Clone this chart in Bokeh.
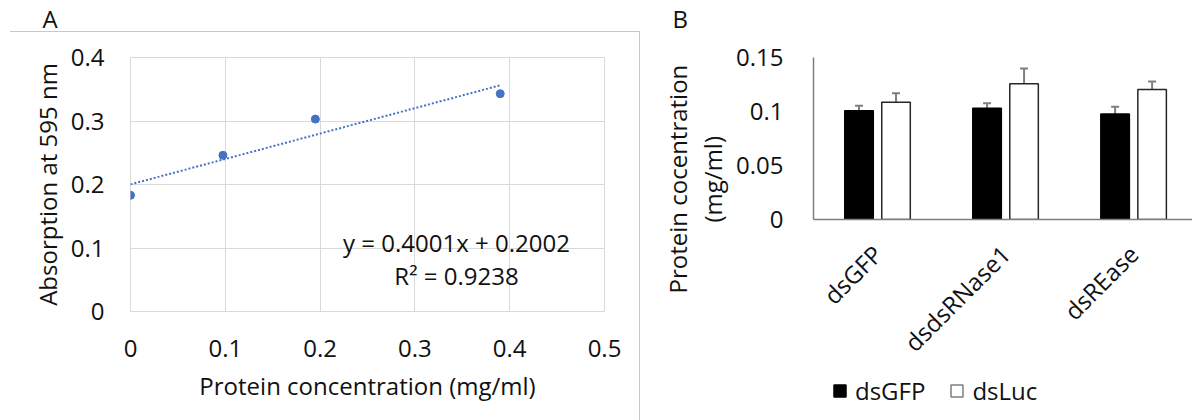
import math
from bokeh.plotting import figure
from bokeh.layouts import row, column
from bokeh.models import (Range1d, FixedTicker, PrintfTickFormatter, Label, Title,
                          ColumnDataSource, Whisker, TeeHead, Legend, LegendItem)
from bokeh.embed import file_html
from bokeh.resources import INLINE

FONT = "Open Sans"
FS = "24px"
TXT = "#111111"

# ---------------- Panel A data ----------------
conc = [0.0, 0.0975, 0.195, 0.39]          # protein concentration (mg/ml)
absorb = [0.183, 0.246, 0.303, 0.343]      # absorption at 595 nm
fit_slope = 0.4001
fit_intercept = 0.2002
fit_r2 = 0.9238
a_xticks = [0, 0.1, 0.2, 0.3, 0.4, 0.5]
a_yticks = [0, 0.1, 0.2, 0.3, 0.4]

# ---------------- Panel B data ----------------
groups = ["dsGFP", "dsdsRNase1", "dsREase"]
series = ["dsGFP", "dsLuc"]
gfp_mean = [0.1006, 0.1031, 0.0978]
gfp_err = [0.0047, 0.0046, 0.0065]
luc_mean = [0.1086, 0.1256, 0.1204]
luc_err = [0.0083, 0.0142, 0.0074]
b_yticks = [0, 0.05, 0.1, 0.15]


def style_axis(ax):
    ax.axis_line_color = None
    ax.major_tick_line_color = None
    ax.minor_tick_line_color = None
    ax.major_label_text_font = FONT
    ax.major_label_text_font_size = FS
    ax.major_label_text_color = TXT
    ax.axis_label_text_font = FONT
    ax.axis_label_text_font_size = FS
    ax.axis_label_text_font_style = "normal"
    ax.axis_label_text_color = TXT


def style_title(t):
    t.text_font = FONT
    t.text_font_size = FS
    t.text_font_style = "normal"
    t.text_color = TXT


# ================= Panel A =================
GRAY_LINE = "#c8c8c8"
pA = figure(width=640, height=420, x_range=Range1d(0, 0.5), y_range=Range1d(0, 0.4),
            output_backend="svg", toolbar_location=None,
            min_border_left=130, min_border_right=36, min_border_top=57, min_border_bottom=109,
            styles={"background": (f"linear-gradient({GRAY_LINE}, {GRAY_LINE}) 10px 31px / 630px 1px no-repeat, "
                                   f"linear-gradient({GRAY_LINE}, {GRAY_LINE}) 639px 31px / 1px 389px no-repeat, white")})
pA.outline_line_color = "#d9d9d9"
pA.background_fill_color = "white"
pA.border_fill_alpha = 0

pA.title.text = "A\n"
pA.title.align = "left"
pA.title.offset = -88
pA.title.standoff = 0
pA.title.text_line_height = 0.68
style_title(pA.title)

pA.xaxis.ticker = FixedTicker(ticks=a_xticks, minor_ticks=[])
pA.yaxis.ticker = FixedTicker(ticks=a_yticks, minor_ticks=[])
pA.xaxis.formatter = PrintfTickFormatter(format="%g")
pA.yaxis.formatter = PrintfTickFormatter(format="%g")
pA.xgrid.ticker = FixedTicker(ticks=a_xticks, minor_ticks=[])
pA.ygrid.ticker = FixedTicker(ticks=a_yticks, minor_ticks=[])
pA.grid.grid_line_color = "#d9d9d9"
pA.grid.grid_line_width = 1
style_axis(pA.xaxis[0])
style_axis(pA.yaxis[0])
pA.xaxis.axis_label = "Protein concentration (mg/ml)"
pA.yaxis.axis_label = "Absorption at 595 nm"
pA.yaxis.major_label_standoff = 20
pA.xaxis.major_label_standoff = 22
pA.yaxis.axis_label_standoff = 4
pA.xaxis.axis_label_standoff = 9

x_end = conc[-1]
pA.line([conc[0], x_end], [fit_intercept + fit_slope * conc[0], fit_intercept + fit_slope * x_end],
        line_color="#4472C4", line_width=2, line_dash="2 2")
pA.scatter(conc, absorb, size=8, color="#4472C4")

pA.add_layout(Label(x=326, y=69, x_units="screen", y_units="screen",
                    text=f"y = {fit_slope}x + {fit_intercept}", text_align="center",
                    text_baseline="alphabetic", text_font=FONT, text_font_size=FS, text_color=TXT))
pA.add_layout(Label(x=326, y=36, x_units="screen", y_units="screen",
                    text=f"R\u00b2 = {fit_r2}", text_align="center",
                    text_baseline="alphabetic", text_font=FONT, text_font_size=FS, text_color=TXT))

# ================= Panel B =================
n = len(groups)
pB = figure(width=552, height=372, x_range=Range1d(0, n - 0.04), y_range=Range1d(0, 0.15),
            output_backend="svg", toolbar_location=None,
            min_border_left=173, min_border_right=0, min_border_top=57, min_border_bottom=153)
pB.outline_line_color = None
pB.grid.visible = False
pB.background_fill_color = "white"
pB.border_fill_color = "white"

pB.title.text = "B\n"
pB.title.align = "left"
pB.title.offset = -141
pB.title.standoff = 0
pB.title.text_line_height = 0.68
style_title(pB.title)

centers = [i + 0.5 for i in range(n)]
off = 0.1445
bw = 0.223
GFP_STYLE = dict(fill_color="black", line_color="black", line_width=1.5)
LUC_STYLE = dict(fill_color="white", line_color="#262626", line_width=1.5)
src_g = ColumnDataSource(dict(x=[c - off for c in centers], top=gfp_mean,
                              up=[m + e for m, e in zip(gfp_mean, gfp_err)]))
src_l = ColumnDataSource(dict(x=[c + off for c in centers], top=luc_mean,
                              up=[m + e for m, e in zip(luc_mean, luc_err)]))
pB.vbar(x="x", top="top", width=bw, source=src_g, **GFP_STYLE)
pB.vbar(x="x", top="top", width=bw, source=src_l, **LUC_STYLE)
for s in (src_g, src_l):
    pB.add_layout(Whisker(source=s, base="x", upper="up", lower="top",
                          upper_head=TeeHead(size=8, line_color="#7f7f7f", line_width=2),
                          lower_head=None, line_color="#7f7f7f", line_width=2))

xb = pB.xaxis[0]
yb = pB.yaxis[0]
style_axis(xb)
style_axis(yb)
xb.axis_line_color = "#7f7f7f"
yb.axis_line_color = "#7f7f7f"
xb.axis_line_width = 1.5
yb.axis_line_width = 1.5
xb.ticker = FixedTicker(ticks=centers, minor_ticks=[])
xb.major_label_overrides = {c: g for c, g in zip(centers, groups)}
xb.major_label_orientation = math.pi / 4
xb.major_label_standoff = 24
yb.ticker = FixedTicker(ticks=b_yticks, minor_ticks=[])
yb.formatter = PrintfTickFormatter(format="%g")
yb.major_label_standoff = 24

t_unit = Title(text="(mg/ml)", align="left", offset=-3, standoff=10)
style_title(t_unit)
pB.add_layout(t_unit, "left")
t_name = Title(text="Protein cocentration", align="left", offset=-74, standoff=-10)
style_title(t_name)
pB.add_layout(t_name, "left")

# ---- legend strip under panel B (hidden proxy renderers supply the swatches) ----
pL = figure(width=552, height=48, x_range=Range1d(0, n - 0.04), y_range=Range1d(0, 0.15),
            output_backend="svg", toolbar_location=None,
            x_axis_location=None, y_axis_location=None,
            min_border_left=173, min_border_right=0, min_border_top=0, min_border_bottom=0)
pL.outline_line_color = None
pL.grid.visible = False
pL.border_fill_color = "white"
pL.background_fill_color = "white"
lg_g = pL.vbar(x="x", top="top", width=bw, source=src_g, visible=False, **GFP_STYLE)
lg_l = pL.vbar(x="x", top="top", width=bw, source=src_l, visible=False,
               **{**LUC_STYLE, "line_color": "#7f7f7f"})
legend = Legend(items=[LegendItem(label=series[0], renderers=[lg_g]),
                       LegendItem(label=series[1], renderers=[lg_l])],
                location=(19, 13), orientation="horizontal",
                glyph_width=15, glyph_height=15, label_standoff=8, spacing=24,
                padding=0, margin=0, border_line_color=None, background_fill_alpha=0,
                inactive_fill_alpha=0,
                label_text_font=FONT, label_text_font_size=FS, label_text_color=TXT)
pL.add_layout(legend)

layout = row(column(pA), column(column(pB), column(pL)))
open("out.html", "w").write(file_html(layout, INLINE))
